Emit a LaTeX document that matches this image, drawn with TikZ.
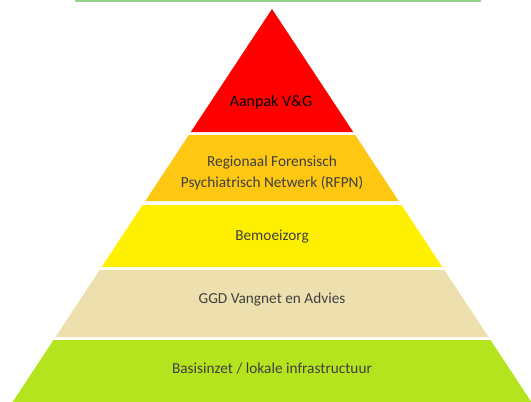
\documentclass[tikz,border=0pt]{standalone}
\usepackage{fontspec}
\setmainfont{Carlito}

\definecolor{laagrood}{RGB}{255,0,0}
\definecolor{laagoranje}{RGB}{253,199,18}
\definecolor{laaggeel}{RGB}{255,240,0}
\definecolor{laagbeige}{RGB}{237,224,174}
\definecolor{laaggroen}{RGB}{180,228,30}
\definecolor{lijngroen}{RGB}{146,212,138}
\definecolor{tekstgrijs}{RGB}{64,64,64}

\tikzset{
	laagtekst/.style={align=center, font=\fontsize{15.3}{20.5}\selectfont, text=tekstgrijs},
}

\begin{document}
\begin{tikzpicture}[x=1pt, y=-1pt]
		\useasboundingbox (0, 0) rectangle (531, 402);

		\draw[lijngroen, line width=1.5pt] (75, 0.75) -- (481, 0.75);

		\fill[laagrood] (272, 9) -- (353.2, 132) -- (190.8, 132) -- cycle;
		\fill[laagoranje] (188.8, 135) -- (355.2, 135) -- (398.7, 201) -- (145.3, 201) -- cycle;
		\fill[laaggeel] (142.6, 205) -- (401.4, 205) -- (442.3, 267) -- (101.7, 267) -- cycle;
		\fill[laagbeige] (99.7, 270) -- (444.3, 270) -- (488.5, 337) -- (55.5, 337) -- cycle;
		\fill[laaggroen] (53.5, 340) -- (490.5, 340) -- (531.4, 402) -- (12.6, 402) -- cycle;

		\draw 
		(271, 102) node [laagtekst, text=black, font=\fontsize{16}{20}\selectfont] (aanpak) {Aanpak V\&G}
		(272, 173) node [laagtekst] (rfpn) {Regionaal Forensisch\\Psychiatrisch Netwerk (RFPN)}
		(272, 237) node [laagtekst] (bemoei) {Bemoeizorg}
		(272, 299) node [laagtekst] (ggd) {GGD Vangnet en Advies}
		(272, 369) node [laagtekst] (basis) {Basisinzet / lokale infrastructuur};
	\end{tikzpicture}
\end{document}
